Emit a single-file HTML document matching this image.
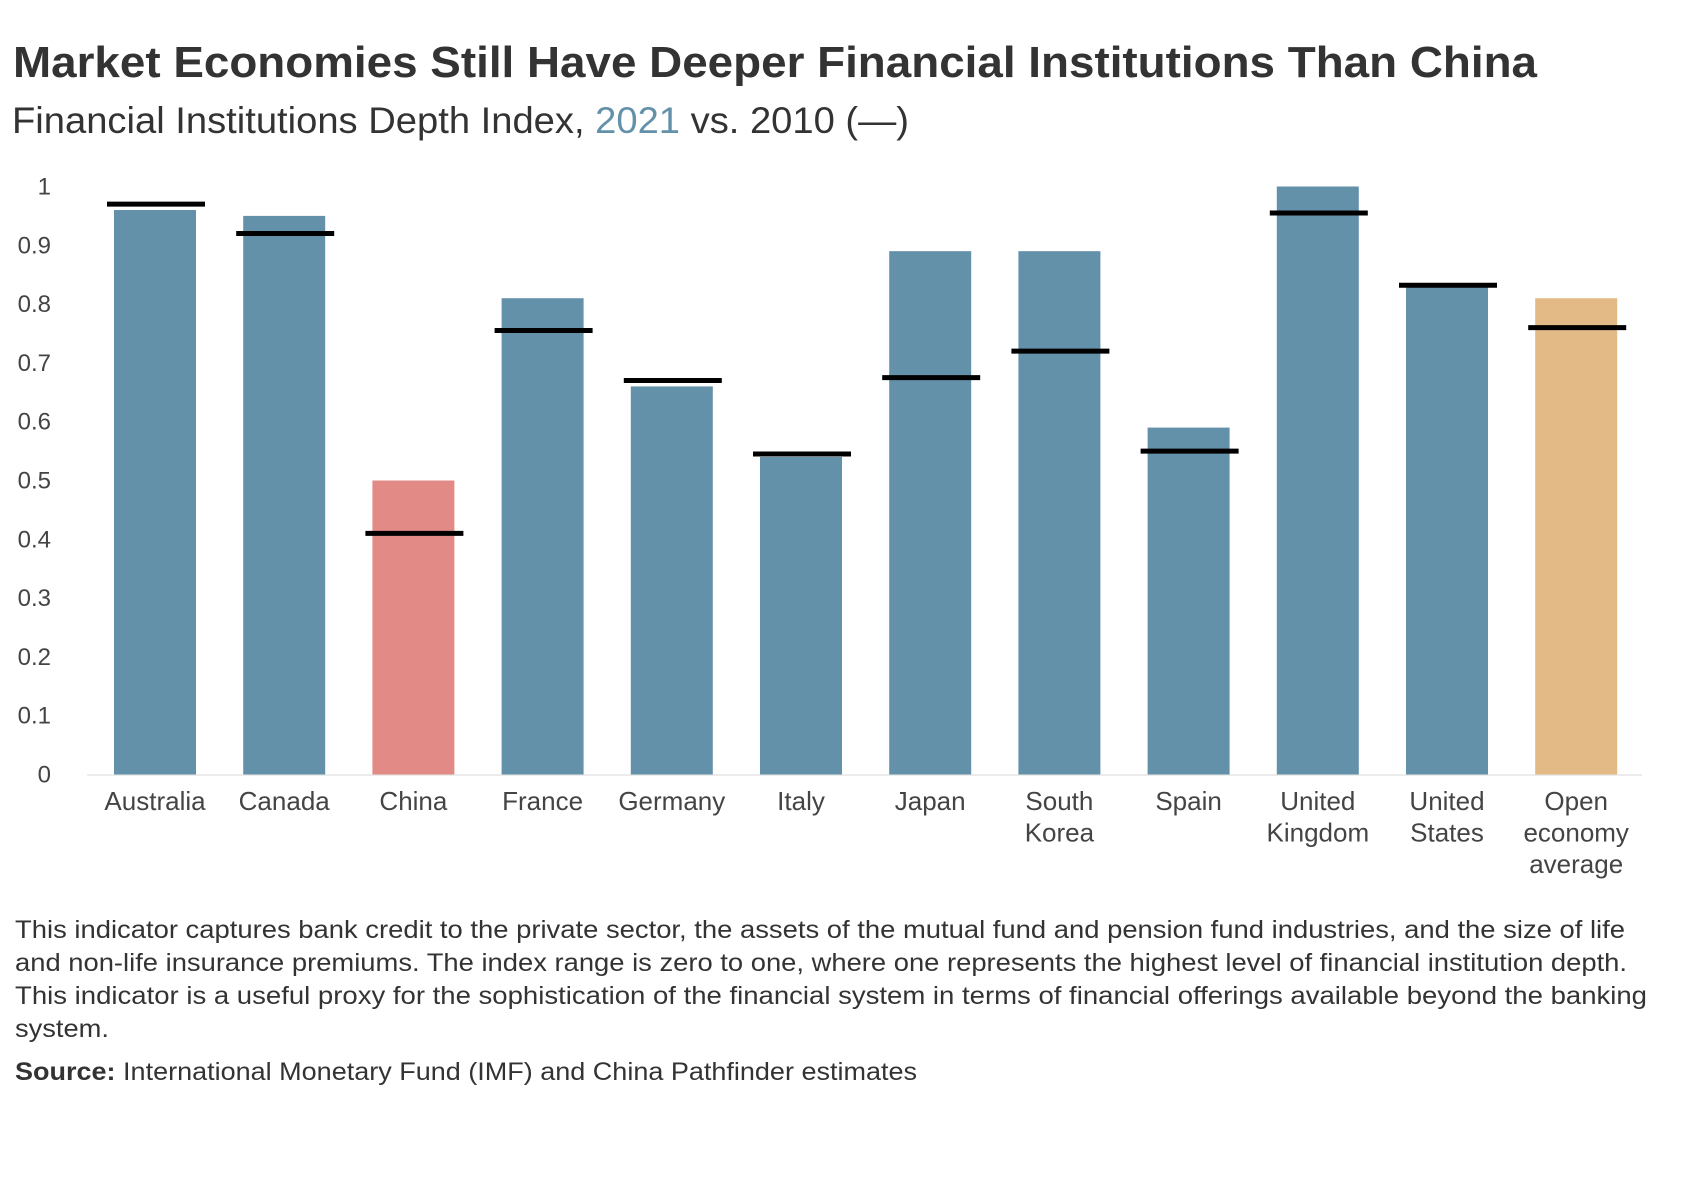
<!DOCTYPE html>
<html><head><meta charset="utf-8"><style>
html,body{margin:0;padding:0;background:#fff;}
svg{display:block;font-family:"Liberation Sans",sans-serif;}
</style></head><body>
<svg id="chart" width="1694" height="1191" viewBox="0 0 1694 1191" xmlns="http://www.w3.org/2000/svg">
<text x="13" y="77" font-size="44" font-weight="bold" fill="#333" textLength="1524" lengthAdjust="spacingAndGlyphs">Market Economies Still Have Deeper Financial Institutions Than China</text>
<text x="12" y="133" font-size="37" fill="#333" textLength="897" lengthAdjust="spacingAndGlyphs">Financial Institutions Depth Index, <tspan fill="#6391aa">2021</tspan> vs. 2010 (—)</text>
<g id="yaxis"></g>
<line x1="87" x2="1642" y1="775" y2="775" stroke="#e6e6e6" stroke-width="1.5"/>
<g id="bars"></g>
<g id="marks"></g>
<g id="xaxis"></g>
<g font-size="25" fill="#333">
<text x="15" y="938" textLength="1610" lengthAdjust="spacingAndGlyphs">This indicator captures bank credit to the private sector, the assets of the mutual fund and pension fund industries, and the size of life</text>
<text x="15" y="971" textLength="1612" lengthAdjust="spacingAndGlyphs">and non-life insurance premiums. The index range is zero to one, where one represents the highest level of financial institution depth.</text>
<text x="15" y="1004" textLength="1632" lengthAdjust="spacingAndGlyphs">This indicator is a useful proxy for the sophistication of the financial system in terms of financial offerings available beyond the banking</text>
<text x="15" y="1037" textLength="94" lengthAdjust="spacingAndGlyphs">system.</text>
</g>
<text x="15" y="1080" font-size="25" fill="#333" textLength="902" lengthAdjust="spacingAndGlyphs"><tspan font-weight="bold">Source:</tspan> International Monetary Fund (IMF) and China Pathfinder estimates</text>
</svg>
<script>
const categories = [["Australia"],["Canada"],["China"],["France"],["Germany"],["Italy"],["Japan"],["South","Korea"],["Spain"],["United","Kingdom"],["United","States"],["Open","economy","average"]];
const values2021 = [0.96,0.95,0.50,0.81,0.66,0.54,0.89,0.89,0.59,1.00,0.83,0.81];
const values2010 = [0.97,0.92,0.41,0.755,0.67,0.545,0.675,0.72,0.55,0.955,0.832,0.76];
const barColors = ["#6391aa","#6391aa","#e28a86","#6391aa","#6391aa","#6391aa","#6391aa","#6391aa","#6391aa","#6391aa","#6391aa","#e3b985"];
const yTicks = [0,0.1,0.2,0.3,0.4,0.5,0.6,0.7,0.8,0.9,1];
const yTickLabels = ["0","0.1","0.2","0.3","0.4","0.5","0.6","0.7","0.8","0.9","1"];

const NS="http://www.w3.org/2000/svg";
const y0=774.5, yH=588;
const y = v => y0 - v*yH;
const x = i => 155 + i*129.2;
const bw=82, mw=98;
function mk(tag, attrs, parent){const e=document.createElementNS(NS,tag);for(const k in attrs)e.setAttribute(k,attrs[k]);parent.appendChild(e);return e;}
const ya=document.getElementById('yaxis'), bars=document.getElementById('bars'), marks=document.getElementById('marks'), xa=document.getElementById('xaxis');
yTicks.forEach((t,i)=>{
  const e=mk('text',{x:51,y:y(t)+8,'font-size':24,fill:'#444','text-anchor':'end'},ya);
  e.textContent=yTickLabels[i];
  
  
});
categories.forEach((c,i)=>{
  const r=mk('rect',{x:x(i)-bw/2,y:y(values2021[i]),width:bw,height:y0-y(values2021[i]),fill:barColors[i]},bars);
  
  
  const m=mk('line',{x1:x(i)-mw/2+1,x2:x(i)+mw/2+1,y1:y(values2010[i]),y2:y(values2010[i]),stroke:'#000','stroke-width':5},marks);
  
  
  const t=mk('text',{x:x(i),y:810,'font-size':26,fill:'#444','text-anchor':'middle'},xa);
  
  
  c.forEach((line,j)=>{const s=mk('tspan',{x:x(i),y:810+j*31.6},t);s.textContent=line;});
});
</script>
</body></html>
